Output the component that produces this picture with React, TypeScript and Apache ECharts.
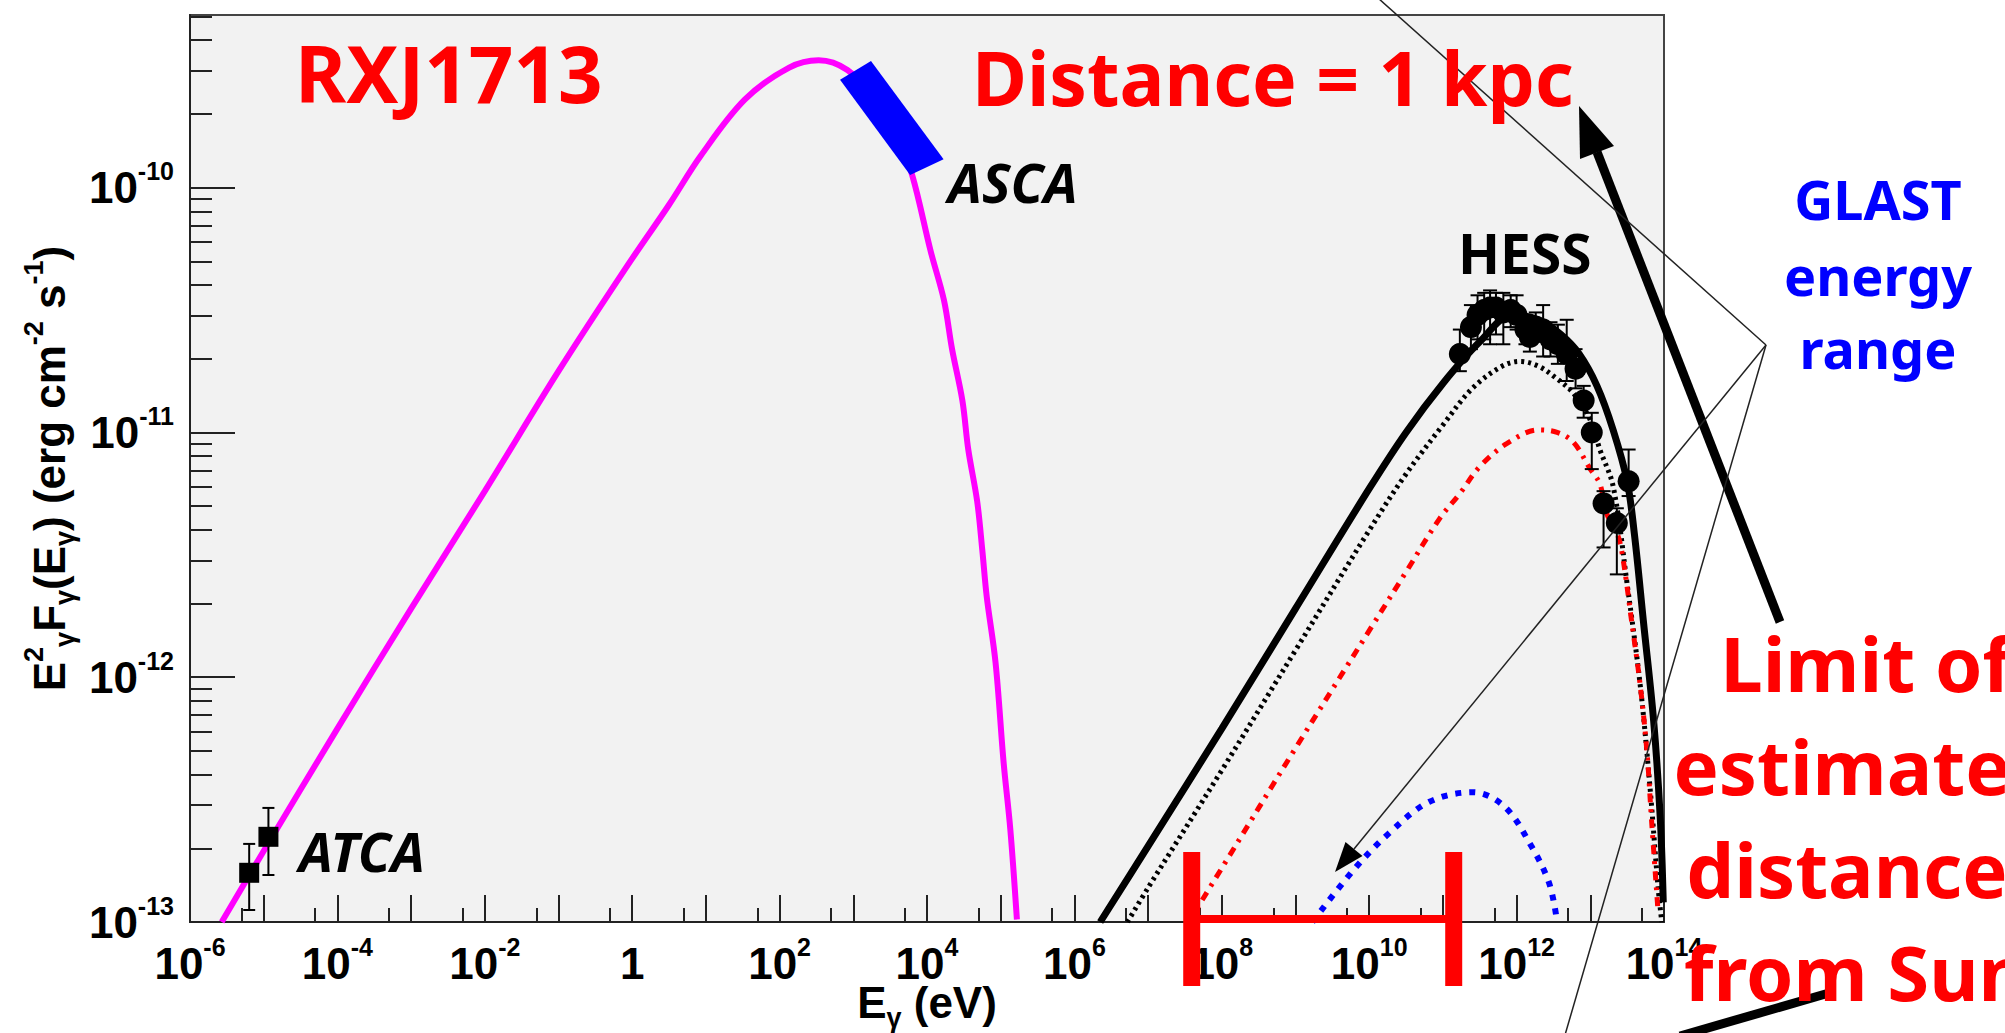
import React, { useEffect, useRef } from "react";
import * as echarts from "echarts";

// ---- data (log10 E in eV, log10 E^2F in erg cm^-2 s^-1) ----
const synchLogE = [-5.57, -5, -4, -3, -2, -1, -0.09, 0.5, 0.93, 1.53, 2.13, 2.53, 2.92, 3.3, 3.6, 3.8, 4.05, 4.23, 4.34, 4.48, 4.56, 4.68, 4.75, 4.81, 4.93, 5.04, 5.13, 5.22];
const synchLogF = [-13.0, -12.71, -12.21, -11.72, -11.24, -10.75, -10.33, -10.07, -9.87, -9.64, -9.51, -9.48, -9.52, -9.64, -9.79, -9.95, -10.26, -10.46, -10.66, -10.87, -11.07, -11.28, -11.48, -11.67, -11.94, -12.35, -12.62, -12.99];

const totalLogE = [6.35, 7, 8, 9, 10, 10.5, 11, 11.5, 11.95, 12.3, 12.6, 12.85, 13.09, 13.31, 13.5, 13.6, 13.72, 13.86, 13.95, 13.99];
const totalLogF = [-13.0, -12.69, -12.21, -11.72, -11.23, -11.0, -10.8, -10.63, -10.52, -10.54, -10.6, -10.68, -10.81, -10.99, -11.2, -11.42, -11.77, -12.18, -12.58, -12.92];

const dottedLogE = [6.72, 7, 8, 9, 10, 10.5, 11, 11.4, 11.8, 12.05, 12.3, 12.5, 12.77, 13.0, 13.13, 13.31, 13.5, 13.68, 13.81, 13.92, 13.97];
const dottedLogF = [-13.0, -12.86, -12.38, -11.89, -11.4, -11.17, -10.97, -10.82, -10.73, -10.71, -10.73, -10.77, -10.84, -10.95, -11.07, -11.22, -11.62, -12.04, -12.45, -12.86, -13.0];

const redLogE = [7.55, 8, 9, 10, 10.5, 10.96, 11.23, 11.5, 11.87, 12.3, 12.55, 12.77, 13.0, 13.13, 13.22, 13.36, 13.43, 13.56, 13.68, 13.77, 13.83, 13.92];
const redLogF = [-13.0, -12.78, -12.29, -11.81, -11.57, -11.35, -11.25, -11.14, -11.045, -10.99, -11.0, -11.04, -11.15, -11.21, -11.33, -11.41, -11.49, -11.77, -12.04, -12.31, -12.58, -12.96];

const blueLogE = [9.23, 9.78, 10.26, 10.81, 11.41, 11.84, 12.2, 12.44, 12.54];
const blueLogF = [-13.0, -12.79, -12.64, -12.51, -12.47, -12.53, -12.69, -12.84, -12.98];

const ascaLogE = [2.82, 3.24, 4.225, 3.771];
const ascaLogF = [-9.56, -9.483, -9.884, -9.949];

const atcaLogE = [-5.197, -4.936];
const atcaLogF = [-12.799, -12.652];
const atcaLo = [-12.951, -12.808];
const atcaHi = [-12.681, -12.534];

const hessLogE = [11.23, 11.38, 11.47, 11.56, 11.64, 11.72, 11.82, 11.92, 12.0, 12.12, 12.18, 12.26, 12.36, 12.46, 12.56, 12.68, 12.8, 12.91, 13.02, 13.18, 13.36, 13.52];
const hessLogF = [-10.68, -10.57, -10.52, -10.5, -10.49, -10.49, -10.51, -10.5, -10.52, -10.58, -10.61, -10.57, -10.58, -10.62, -10.64, -10.68, -10.74, -10.87, -11.0, -11.29, -11.37, -11.2];
const hessLo = [-10.75, -10.66, -10.62, -10.62, -10.64, -10.6, -10.64, -10.57, -10.58, -10.64, -10.67, -10.63, -10.69, -10.69, -10.72, -10.79, -10.82, -10.94, -11.15, -11.47, -11.58, -11.26];
const hessHi = [-10.58, -10.48, -10.44, -10.43, -10.42, -10.43, -10.43, -10.44, -10.44, -10.52, -10.55, -10.51, -10.48, -10.55, -10.56, -10.54, -10.66, -10.81, -10.92, -11.24, -11.31, -11.07];

const glastLogE = [7.585, 11.14];

const xMin = -6, xMax = 14;
const yMin = -13, yMax = -9.295;
const xLabelValues = [-6, -4, -2, 0, 2, 4, 6, 8, 10, 12, 14];
const yLabelValues = [-13, -12, -11, -10];

const zip = (a: number[], b: number[]) => a.map((v, i) => [v, b[i]]);

const GRID = { left: 190, top: 15, width: 1474, height: 907 };
const LABEL_FONT = "Liberation Sans";
const ANN_FONT = '"Comic Sans MS", "Noto Sans", sans-serif';

export default function App() {
  const ref = useRef<HTMLDivElement>(null);
  useEffect(() => {
    if (!ref.current) return;
    const chart = echarts.init(ref.current, null, { renderer: "svg" });

    const xMajor: number[] = [];
    const xMinor: number[] = [];
    for (let k = xMin; k <= xMax; k++) {
      xMajor.push(k);
      if (k < xMax) xMinor.push(k + Math.log10(5));
    }
    const yMajor: number[] = [];
    const yMinor: number[] = [];
    for (let k = yMin; k <= Math.floor(yMax); k++) {
      yMajor.push(k);
      for (let m = 2; m <= 9; m++) {
        const v = k + Math.log10(m);
        if (v < yMax) yMinor.push(v);
      }
    }

    const rich = {
      b: { fontSize: 44, fontWeight: "bold", fontFamily: LABEL_FONT, color: "#000", lineHeight: 58, verticalAlign: "middle" },
      s: { fontSize: 25, fontWeight: "bold", fontFamily: LABEL_FONT, color: "#000", lineHeight: 25, verticalAlign: "top" },
    };
    const fmt = (v: number) => (v === 0 ? "{b|1}" : `{b|10}{s|${v}}`);

    const titleRich = {
      t: { fontSize: 44, fontWeight: "bold", fontFamily: LABEL_FONT, color: "#000", lineHeight: 58, verticalAlign: "middle" },
      u: { fontSize: 27, fontWeight: "bold", fontFamily: LABEL_FONT, color: "#000", lineHeight: 27, verticalAlign: "top" },
      d: { fontSize: 27, fontWeight: "bold", fontFamily: LABEL_FONT, color: "#000", lineHeight: 34, verticalAlign: "bottom" },
    };

    const axisCommon = {
      type: "value",
      splitLine: { show: false },
    };

    const errorBars = (name: string, xs: number[], lo: number[], hi: number[], cap: number) => ({
      type: "custom",
      name,
      xAxisIndex: 0,
      yAxisIndex: 0,
      clip: true,
      z: 3,
      data: xs.map((x, i) => [x, lo[i], hi[i]]),
      renderItem: (params: any, api: any) => {
        const a = api.coord([api.value(0), api.value(1)]);
        const b = api.coord([api.value(0), api.value(2)]);
        const st = { stroke: "#000", lineWidth: 2 };
        return {
          type: "group",
          children: [
            { type: "line", shape: { x1: a[0], y1: a[1], x2: b[0], y2: b[1] }, style: st },
            { type: "line", shape: { x1: a[0] - cap, y1: a[1], x2: a[0] + cap, y2: a[1] }, style: st },
            { type: "line", shape: { x1: b[0] - cap, y1: b[1], x2: b[0] + cap, y2: b[1] }, style: st },
          ],
        };
      },
    });

    const lineSeries = (name: string, xs: number[], ys: number[], color: string, width: number, dash?: number[]) => ({
      type: "line",
      name,
      data: zip(xs, ys),
      showSymbol: false,
      smooth: 0.35,
      lineStyle: { color, width, type: dash || "solid", cap: "butt" },
      z: 2,
    });

    const ann = (text: string, x: number, y: number, fill: string, fontSize: number, extra: any = {}) => ({
      type: "text",
      x,
      y,
      z: 100,
      style: { text, fill, fontSize, fontWeight: "bold", fontFamily: ANN_FONT, verticalAlign: "middle", ...extra },
    });

    const option: any = {
      animation: false,
      backgroundColor: "#ffffff",
      grid: {
        left: GRID.left, top: GRID.top, width: GRID.width, height: GRID.height,
        containLabel: false, outerBoundsMode: "none",
        show: true, backgroundColor: "#f2f2f2", borderColor: "#444", borderWidth: 2,
      },
      xAxis: [
        {
          ...axisCommon,
          min: xMin, max: xMax,
          position: "bottom",
          axisLine: { show: true, onZero: false, lineStyle: { color: "#222", width: 2 } },
          axisTick: { show: true, inside: true, length: 27, customValues: xMajor, lineStyle: { color: "#222", width: 2 } },
          axisLabel: { customValues: xLabelValues, formatter: fmt, rich, margin: 12 },
          name: "{t|E}{d|γ}{t| (eV)}",
          nameLocation: "middle",
          nameGap: 51,
          nameMoveOverlap: false,
          nameTextStyle: { rich: titleRich },
        },
        {
          ...axisCommon,
          min: xMin, max: xMax,
          position: "bottom",
          axisLine: { show: false, onZero: false },
          axisTick: { show: true, inside: true, length: 14, customValues: xMinor, lineStyle: { color: "#222", width: 2 } },
          axisLabel: { show: false },
        },
      ],
      yAxis: [
        {
          ...axisCommon,
          min: yMin, max: yMax,
          position: "left",
          axisLine: { show: true, onZero: false, lineStyle: { color: "#222", width: 2 } },
          axisTick: { show: true, inside: true, length: 45, customValues: yMajor, lineStyle: { color: "#222", width: 2 } },
          axisLabel: { customValues: yLabelValues, formatter: fmt, rich, margin: 16 },
          name: "{t|E}{u|2}{d|γ}{t|F}{d|γ}{t|(E}{d|γ}{t|) (erg cm}{u|-2}{t| s}{u|-1}{t|)}",
          nameLocation: "middle",
          nameRotate: 90,
          nameGap: 104,
          nameTextStyle: { rich: titleRich },
        },
        {
          ...axisCommon,
          min: yMin, max: yMax,
          position: "left",
          axisLine: { show: false, onZero: false },
          axisTick: { show: true, inside: true, length: 22, customValues: yMinor, lineStyle: { color: "#222", width: 2 } },
          axisLabel: { show: false },
        },
      ],
      series: [
        lineSeries("synchrotron", synchLogE, synchLogF, "#ff00ff", 6),
        {
          type: "custom", name: "ASCA", clip: true, z: 4,
          data: [[ascaLogE[0], ascaLogF[0]]],
          renderItem: (params: any, api: any) => ({
            type: "polygon",
            shape: { points: ascaLogE.map((e, i) => api.coord([e, ascaLogF[i]])) },
            style: { fill: "#0000ff" },
          }),
        },
        lineSeries("total", totalLogE, totalLogF, "#000000", 7),
        lineSeries("dotted", dottedLogE, dottedLogF, "#000000", 5, [3, 4]),
        lineSeries("red", redLogE, redLogF, "#ff0000", 5, [9, 7, 3, 7]),
        lineSeries("blue", blueLogE, blueLogF, "#0000ff", 6, [6, 8]),
        errorBars("ATCA err", atcaLogE, atcaLo, atcaHi, 6),
        {
          type: "scatter", name: "ATCA", data: zip(atcaLogE, atcaLogF), symbol: "rect", symbolSize: 20,
          itemStyle: { color: "#000", opacity: 1 }, z: 5,
        },
        errorBars("HESS err", hessLogE, hessLo, hessHi, 7),
        {
          type: "scatter", name: "HESS", data: zip(hessLogE, hessLogF), symbol: "circle", symbolSize: 22,
          itemStyle: { color: "#000", opacity: 1 }, z: 5,
        },
        {
          type: "custom", name: "GLAST range", clip: false, z: 10,
          data: [[glastLogE[0], glastLogE[1]]],
          renderItem: (params: any, api: any) => {
            const a = api.coord([api.value(0), yMin]);
            const b = api.coord([api.value(1), yMin]);
            const y = a[1] - 3;
            return {
              type: "group",
              children: [
                { type: "rect", shape: { x: a[0], y: y - 4, width: b[0] - a[0], height: 8 }, style: { fill: "#ff0000" } },
                { type: "rect", shape: { x: a[0] - 8, y: y - 67, width: 17, height: 134 }, style: { fill: "#ff0000" } },
                { type: "rect", shape: { x: b[0] - 8, y: y - 67, width: 17, height: 134 }, style: { fill: "#ff0000" } },
              ],
            };
          },
        },
      ],
      graphic: [
        ann("RXJ1713", 295, 73, "#ff0000", 78),
        ann("Distance = 1 kpc", 972, 77, "#ff0000", 75),
        ann("ASCA", 948, 182, "#000", 54, { fontStyle: "italic" }),
        ann("ATCA", 299, 851, "#000", 54, { fontStyle: "italic" }),
        ann("HESS", 1458, 252, "#000", 55),
        ann("GLAST", 1878, 199, "#0000ff", 54, { align: "center" }),
        ann("energy", 1878, 275, "#0000ff", 54, { align: "center" }),
        ann("range", 1878, 348, "#0000ff", 54, { align: "center" }),
        ann("Limit of", 1866, 662, "#ff0000", 76, { align: "center" }),
        ann("estimated", 1866, 765, "#ff0000", 76, { align: "center" }),
        ann("distances", 1866, 868, "#ff0000", 76, { align: "center" }),
        ann("from Sun", 1856, 971, "#ff0000", 76, { align: "center" }),
        // thick arrow to "kpc"
        { type: "line", z: 90, shape: { x1: 1780, y1: 622, x2: 1597, y2: 152 }, style: { stroke: "#000", lineWidth: 9 } },
        { type: "polygon", z: 90, shape: { points: [[1579, 106], [1614, 146], [1580, 159]] }, style: { fill: "#000" } },
        // thick line at bottom
        { type: "line", z: 90, shape: { x1: 1680, y1: 1036, x2: 1829, y2: 993 }, style: { stroke: "#000", lineWidth: 9 } },
        // thin lines from the GLAST label vertex
        { type: "line", z: 90, shape: { x1: 1766, y1: 345, x2: 1378, y2: -2 }, style: { stroke: "#222", lineWidth: 1.5 } },
        { type: "line", z: 90, shape: { x1: 1766, y1: 345, x2: 1354, y2: 849 }, style: { stroke: "#222", lineWidth: 1.5 } },
        { type: "polygon", z: 90, shape: { points: [[1335, 872], [1362.5, 856], [1345.5, 842]] }, style: { fill: "#000" } },
        { type: "line", z: 90, shape: { x1: 1766, y1: 345, x2: 1565, y2: 1035 }, style: { stroke: "#222", lineWidth: 1.5 } },
      ],
    };

    chart.setOption(option);
    return () => chart.dispose();
  }, []);

  return (
    <div
      ref={ref}
      style={{ position: "absolute", left: 0, top: 0, width: 2005, height: 1033, background: "#fff" }}
    />
  );
}
